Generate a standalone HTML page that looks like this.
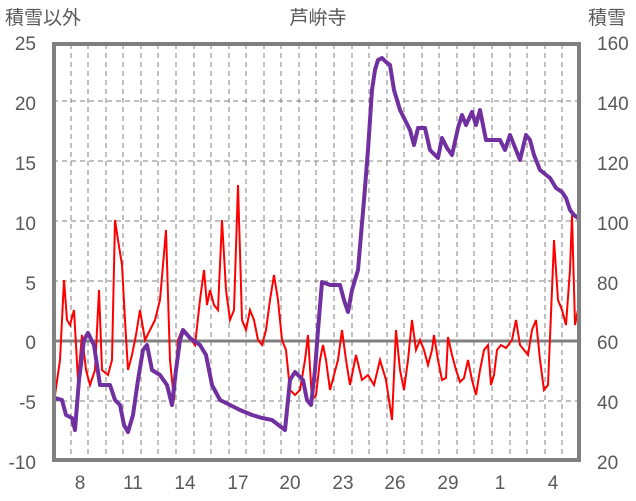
<!DOCTYPE html><html><head><meta charset="utf-8"><style>body{margin:0;background:#fff}svg{display:block}text{font-family:"Liberation Sans","Noto Sans CJK JP",sans-serif;fill:#595959;font-size:19px}</style></head><body>
<svg width="636" height="501" viewBox="0 0 636 501">
<g stroke="#808080" stroke-width="1" stroke-dasharray="5,4">
<path d="M53 101H580M53 161H580M53 221H580M53 281H580M53 401H580"/>
<path d="M71 44V460M88 44V460M106 44V460M123 44V460M141 44V460M158 44V460M176 44V460M194 44V460M211 44V460M229 44V460M246 44V460M264 44V460M281 44V460M299 44V460M316 44V460M334 44V460M352 44V460M369 44V460M387 44V460M404 44V460M422 44V460M439 44V460M457 44V460M474 44V460M492 44V460M510 44V460M527 44V460M545 44V460M562 44V460"/>
</g>
<path d="M53 341H580" stroke="#808080" stroke-width="3"/>
<polyline fill="none" stroke="#ff0000" stroke-width="2" points="55,395 60,360 64,280 67,320 70,325 74,310 78,380 82,335 86,370 90,385 95,370 99,290 102,370 108,375 112,360 115,220 118,240 122,265 125,320 128,370 132,355 136,335 140,310 145,340 150,330 155,320 160,300 166,230 170,360 174,400 178,340 182,330 188,335 195,345 200,300 204,270 207,305 210,290 214,305 218,310 222,220 226,290 230,320 234,310 238,185 242,320 246,330 250,310 254,320 258,340 262,345 266,330 270,300 274,275 278,300 282,340 286,350 290,390 295,395 300,390 305,360 308,335 312,400 316,395 320,360 323,345 326,360 330,390 334,375 338,360 342,330 346,360 350,385 356,355 362,380 368,375 374,385 380,360 386,380 392,420 396,330 400,370 404,390 408,360 412,320 416,350 420,340 424,350 428,365 432,350 434,335 438,360 442,380 446,378 448,337 452,355 456,370 460,382 464,378 468,360 472,380 476,395 480,370 484,350 488,345 491,385 494,375 497,350 501,345 506,348 512,340 516,320 520,345 524,350 528,355 532,330 536,320 540,360 544,390 548,385 552,290 554,240 558,300 562,310 566,325 570,270 572,215 575,325 578,310"/>
<polyline fill="none" stroke="#7030a0" stroke-width="4" stroke-linejoin="round" points="55,398 62,400 66,415 72,418 75,430 79,380 84,340 88,333 94,345 100,385 110,385 115,400 120,405 124,425 128,432 133,415 138,380 143,350 147,345 152,370 160,375 167,385 172,405 176,370 180,340 183,330 190,338 200,345 206,355 212,385 220,400 230,405 240,410 252,415 262,418 272,420 285,430 290,380 295,372 303,380 307,400 311,405 315,370 318,330 322,282 330,285 340,285 344,300 348,312 352,290 358,270 364,200 368,150 372,90 375,70 378,60 382,58 386,62 390,65 394,90 400,110 405,120 410,130 414,145 418,128 425,128 430,150 438,158 442,138 447,148 452,155 458,128 462,115 466,125 472,112 476,125 480,110 486,140 492,140 500,140 505,150 510,135 516,150 520,160 526,135 530,140 534,155 540,170 550,178 556,188 562,192 566,198 570,210 574,215 578,218"/>
<rect x="54" y="44" width="525" height="416" fill="none" stroke="#808080" stroke-width="4"/>
<g text-anchor="end"><text x="36" y="50">25</text><text x="36" y="110">20</text><text x="36" y="170">15</text><text x="36" y="230">10</text><text x="36" y="290">5</text><text x="36" y="349">0</text><text x="36" y="409">-5</text><text x="36" y="469">-10</text></g>
<g text-anchor="start"><text x="597" y="50">160</text><text x="597" y="110">140</text><text x="597" y="170">120</text><text x="597" y="230">100</text><text x="597" y="290">80</text><text x="597" y="349">60</text><text x="597" y="409">40</text><text x="597" y="469">20</text></g>
<g text-anchor="middle"><text x="80" y="489">8</text><text x="133" y="489">11</text><text x="185" y="489">14</text><text x="238" y="489">17</text><text x="290" y="489">20</text><text x="343" y="489">23</text><text x="395" y="489">26</text><text x="448" y="489">29</text><text x="500" y="489">1</text><text x="553" y="489">4</text></g>
<text x="5" y="24">積雪以外</text><text x="588" y="24">積雪</text><text x="318" y="24" text-anchor="middle">芦峅寺</text>
</svg></body></html>
